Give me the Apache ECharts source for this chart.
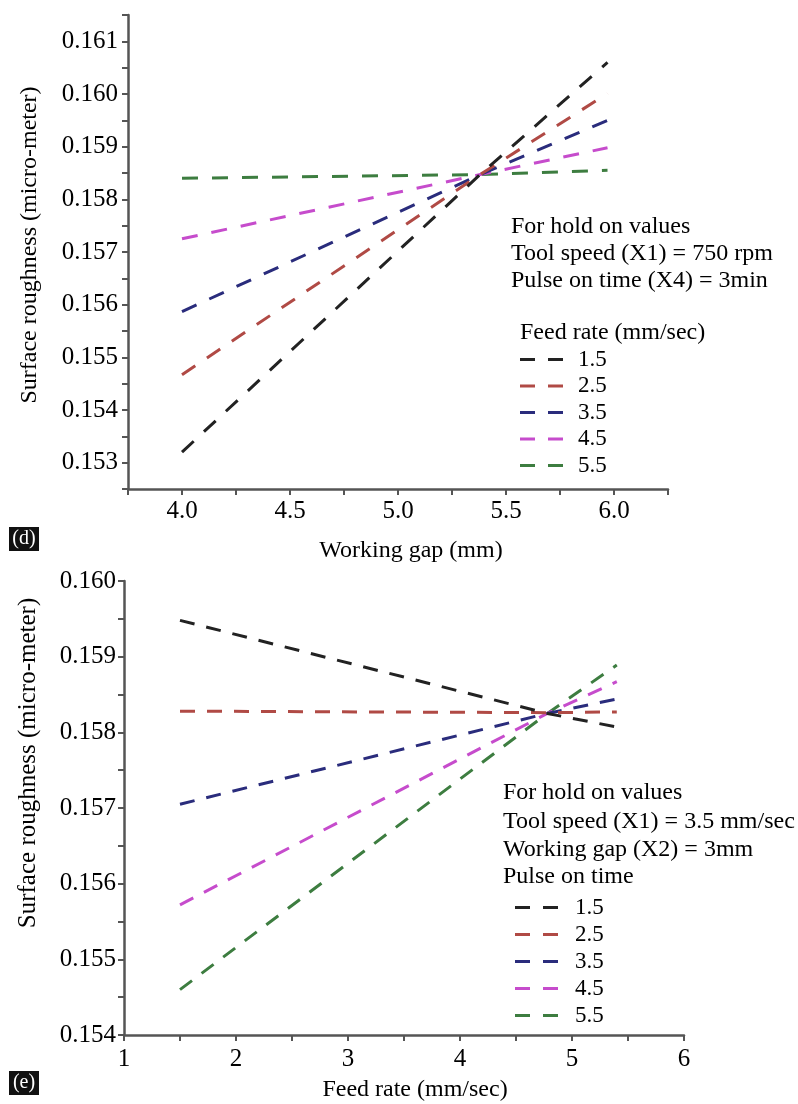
<!DOCTYPE html>
<html>
<head>
<meta charset="utf-8">
<script src="https://cdn.jsdelivr.net/npm/echarts@6/dist/echarts.min.js"></script>
<style>
  html, body { margin: 0; padding: 0; background: #fff; }
  #main { width: 798px; height: 1104px; }
</style>
</head>
<body>
<div id="main"></div>
<script>
// (d) surface roughness vs working gap, one line per feed rate
var gapX = [4.0, 5.38, 5.97];
var gapFeed15 = [0.1532, 0.15847, 0.1606];
var gapFeed25 = [0.15467, 0.15847, 0.16001];
var gapFeed35 = [0.15587, 0.15847, 0.1595];
var gapFeed45 = [0.15725, 0.15847, 0.15898];
var gapFeed55 = [0.1584, 0.15847, 0.15855];

// (e) surface roughness vs feed rate, one line per pulse on time
var feedX = [1.5, 4.78, 5.40];
var feedPulse15 = [0.15948, 0.15825, 0.15807];
var feedPulse25 = [0.15828, 0.15826, 0.15827];
var feedPulse35 = [0.15705, 0.15825, 0.15844];
var feedPulse45 = [0.15572, 0.15825, 0.15867];
var feedPulse55 = [0.15460, 0.15825, 0.15889];

var names = ['1.5', '2.5', '3.5', '4.5', '5.5'];
var colors = ['#222222', '#b04a45', '#2a2c7c', '#c64ccc', '#3d7d40'];

var FONT = "'Liberation Serif', 'Times New Roman', serif";

function pairs(xs, ys) {
  var res = [];
  for (var i = 0; i < xs.length; i++) {
    res.push([xs[i], ys[i]]);
  }
  return res;
}

var gapSets = [gapFeed15, gapFeed25, gapFeed35, gapFeed45, gapFeed55];
var feedSets = [feedPulse15, feedPulse25, feedPulse35, feedPulse45, feedPulse55];

var series = [];
for (var i = 0; i < names.length; i++) {
  series.push({
    name: names[i],
    type: 'line',
    xAxisIndex: 0,
    yAxisIndex: 0,
    symbol: 'none',
    data: pairs(gapX, gapSets[i]),
    lineStyle: { color: colors[i], width: 3, type: [16, 14] },
    itemStyle: { color: colors[i] },
    z: 10 - i
  });
  series.push({
    name: names[i],
    type: 'line',
    xAxisIndex: 1,
    yAxisIndex: 1,
    symbol: 'none',
    data: pairs(feedX, feedSets[i]),
    lineStyle: { color: colors[i], width: 3, type: [15, 12] },
    itemStyle: { color: colors[i] },
    z: 10 - i
  });
}

var axisLine = { lineStyle: { color: '#555', width: 2.5 } };
var axisTick = { length: 6, lineStyle: { color: '#555', width: 2 } };

function yLabel(v) {
  var k = Math.round(v * 10000);
  return k % 10 === 0 ? (k / 10000).toFixed(3) : '';
}

var legendBase = {
  orient: 'vertical',
  icon: 'path://M0,0h15v3h-15z M28,0h15v3h-15z',
  itemHeight: 3,
  padding: 0,
  selectedMode: false,
  textStyle: { fontFamily: FONT, fontSize: 23, color: '#000', lineHeight: 22, padding: [0, 0, 0, 10] },
  data: names
};

function txt(x, y, s, size) {
  return {
    type: 'text', x: x, y: y,
    style: { text: s, fill: '#000', font: size + 'px ' + FONT, align: 'left', verticalAlign: 'middle' }
  };
}

var option = {
  animation: false,
  backgroundColor: '#fff',
  grid: [
    { left: 128, right: 130, top: 15, bottom: 615 },
    { left: 124, right: 114, top: 581, bottom: 69 }
  ],
  xAxis: [
    {
      gridIndex: 0, type: 'value', min: 3.75, max: 6.25, interval: 0.25,
      splitLine: { show: false }, axisLine: axisLine, axisTick: axisTick,
      axisLabel: {
        fontFamily: FONT, fontSize: 25, color: '#000', margin: 10,
        formatter: function (v) {
          var k = Math.round(v * 100);
          return k % 50 === 0 ? (k / 100).toFixed(1) : '';
        }
      }
    },
    {
      gridIndex: 1, type: 'value', min: 1, max: 6, interval: 0.5,
      splitLine: { show: false }, axisLine: axisLine, axisTick: axisTick,
      axisLabel: {
        fontFamily: FONT, fontSize: 25, color: '#000', margin: 12,
        formatter: function (v) {
          var k = Math.round(v * 10);
          return k % 10 === 0 ? String(k / 10) : '';
        }
      }
    }
  ],
  yAxis: [
    {
      gridIndex: 0, type: 'value', min: 0.1525, max: 0.1615, interval: 0.0005,
      splitLine: { show: false }, axisLine: axisLine, axisTick: axisTick,
      axisLabel: { fontFamily: FONT, fontSize: 25, color: '#000', margin: 10, formatter: yLabel }
    },
    {
      gridIndex: 1, type: 'value', min: 0.154, max: 0.160, interval: 0.0005,
      splitLine: { show: false }, axisLine: axisLine, axisTick: axisTick,
      axisLabel: { fontFamily: FONT, fontSize: 25, color: '#000', margin: 8, formatter: yLabel }
    }
  ],
  legend: [
    Object.assign({}, legendBase, { left: 520, top: 348, itemGap: 3.5, itemWidth: 43 }),
    Object.assign({}, legendBase, { left: 515, top: 896, itemGap: 4, itemWidth: 47 })
  ],
  graphic: [
    // axis titles
    { type: 'text', x: 30, y: 245, rotation: Math.PI / 2,
      style: { text: 'Surface roughness (micro-meter)', fill: '#000', font: '24px ' + FONT, align: 'center', verticalAlign: 'middle' } },
    { type: 'text', x: 28, y: 763, rotation: Math.PI / 2,
      style: { text: 'Surface roughness (micro-meter)', fill: '#000', font: '25px ' + FONT, align: 'center', verticalAlign: 'middle' } },
    { type: 'text', x: 411, y: 551,
      style: { text: 'Working gap (mm)', fill: '#000', font: '24px ' + FONT, align: 'center', verticalAlign: 'middle' } },
    { type: 'text', x: 415, y: 1090,
      style: { text: 'Feed rate (mm/sec)', fill: '#000', font: '24px ' + FONT, align: 'center', verticalAlign: 'middle' } },
    // hold-on notes, chart (d)
    txt(511, 227, 'For hold on values', 24),
    txt(511, 254, 'Tool speed (X1) = 750 rpm', 24),
    txt(511, 281, 'Pulse on time (X4) = 3min', 24),
    txt(520, 333, 'Feed rate (mm/sec)', 24),
    // hold-on notes, chart (e)
    txt(503, 793, 'For hold on values', 24),
    txt(503, 822, 'Tool speed (X1) = 3.5 mm/sec', 24),
    txt(503, 850, 'Working gap (X2) = 3mm', 24),
    txt(503, 877, 'Pulse on time', 24),
    // panel tags
    { type: 'rect', shape: { x: 9, y: 527, width: 30, height: 24 }, style: { fill: '#111' } },
    { type: 'text', x: 24, y: 539,
      style: { text: '(d)', fill: '#fff', font: '20px ' + FONT, align: 'center', verticalAlign: 'middle' } },
    { type: 'rect', shape: { x: 9, y: 1071, width: 30, height: 24 }, style: { fill: '#111' } },
    { type: 'text', x: 24, y: 1083,
      style: { text: '(e)', fill: '#fff', font: '20px ' + FONT, align: 'center', verticalAlign: 'middle' } }
  ],
  series: series
};

var myChart = echarts.init(document.getElementById('main'));
myChart.setOption(option);
</script>
</body>
</html>
